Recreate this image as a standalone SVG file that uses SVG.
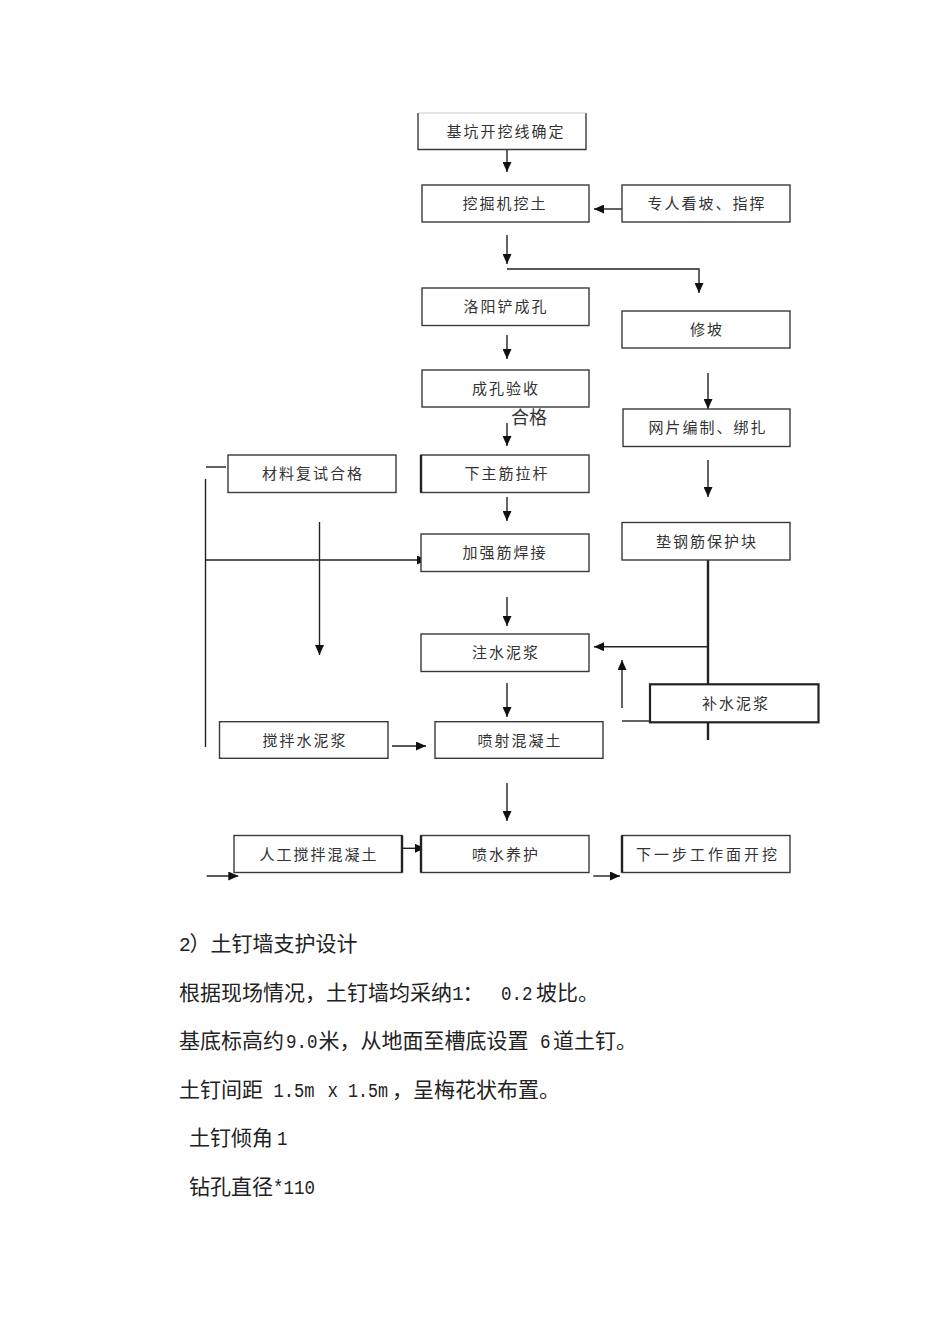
<svg xmlns="http://www.w3.org/2000/svg" width="950" height="1344" viewBox="0 0 950 1344">
<style>
.bx{fill:#fff;stroke:#3a3a3a;stroke-width:1.4}
.tk{stroke:#222;stroke-width:2.4;fill:none}
.t{font-family:"Noto Sans CJK SC","Noto Sans",sans-serif;font-size:15px;letter-spacing:2px;fill:#333;text-anchor:middle}
.ln{stroke:#222;stroke-width:1.4;fill:none}
.ar{stroke:#222;stroke-width:1.4;fill:none;marker-end:url(#ah)}
.b{font-family:"Noto Sans CJK SC","Noto Sans",sans-serif;font-size:21px;fill:#222}
.m{font-family:"Liberation Mono",monospace;font-size:19.5px;fill:#222}
</style>
<defs>
<marker id="ah" markerUnits="userSpaceOnUse" markerWidth="10" markerHeight="9" refX="10" refY="4.5" orient="auto">
<path d="M0,0 L10,4.5 L0,9 z" fill="#111"/>
</marker>
</defs>
<rect width="950" height="1344" fill="#fff"/>

<g id="connectors">
<line class="ar" x1="507" y1="149" x2="507" y2="172"/>
<line class="ar" x1="622" y1="209" x2="594" y2="209"/>
<line class="ar" x1="507" y1="235" x2="507" y2="264"/>
<polyline class="ar" points="507,269 699,269 699,293"/>
<line class="ar" x1="507" y1="335" x2="507" y2="359"/>
<line class="ar" x1="708" y1="373" x2="708" y2="409"/>
<line class="ar" x1="507" y1="423" x2="507" y2="446"/>
<line class="ar" x1="708" y1="460" x2="708" y2="497"/>
<line class="ar" x1="507" y1="497" x2="507" y2="521"/>
<line class="ln" x1="206" y1="467" x2="226" y2="467"/>
<line class="ln" x1="205.5" y1="479" x2="205.5" y2="747"/>
<line class="ar" x1="205.5" y1="560" x2="427" y2="560"/>
<line class="ar" x1="319.5" y1="522" x2="319.5" y2="655"/>
<line class="tk" x1="708" y1="560" x2="708" y2="740"/>
<line class="ar" x1="708" y1="646.7" x2="594" y2="646.7"/>
<line class="ar" x1="507" y1="597" x2="507" y2="626"/>
<line class="ar" x1="622" y1="708" x2="622" y2="660"/>
<line class="ln" x1="622" y1="721" x2="650" y2="721"/>
<line class="ar" x1="507" y1="683" x2="507" y2="717"/>
<line class="ar" x1="392" y1="746" x2="426" y2="746"/>
<line class="ar" x1="507" y1="783" x2="507" y2="821"/>
<line class="ar" x1="402" y1="848.3" x2="425" y2="848.3"/>
<line class="ar" x1="206.7" y1="876" x2="238.3" y2="876"/>
<line class="ar" x1="593.3" y1="876" x2="620" y2="876"/>
</g>

<g id="n1">
<rect x="418" y="113" width="168" height="36.5" fill="#fff"/>
<path d="M418,113 V149.5 H586 V113" fill="none" stroke="#3a3a3a" stroke-width="1.4"/>
<line x1="418" y1="113" x2="586" y2="113" stroke="#c8c8c8" stroke-width="1"/>
<text class="t" x="506" y="137">基坑开挖线确定</text>
</g>
<g id="n2">
<rect class="bx" x="422" y="185" width="167" height="37"/>
<text class="t" x="505" y="209">挖掘机挖土</text>
</g>
<g id="n3">
<rect class="bx" x="622" y="185" width="168" height="37"/>
<text class="t" x="707" y="209">专人看坡、指挥</text>
</g>
<g id="n4">
<rect class="bx" x="422" y="288" width="167" height="37.5"/>
<text class="t" x="506" y="312">洛阳铲成孔</text>
</g>
<g id="n5">
<rect class="bx" x="622" y="311" width="168" height="37"/>
<text class="t" x="707" y="335">修坡</text>
</g>
<g id="n6">
<rect class="bx" x="422" y="370" width="167" height="37"/>
<text class="t" x="506" y="394">成孔验收</text>
<text x="511" y="424" font-family="'Noto Sans CJK SC',sans-serif" font-size="18" fill="#333">合格</text>
</g>
<g id="n7">
<rect class="bx" x="623" y="409" width="167" height="37.5"/>
<text class="t" x="708" y="433">网片编制、绑扎</text>
</g>
<g id="n8">
<rect class="bx" x="228" y="455" width="168" height="37.5"/>
<text class="t" x="313" y="479">材料复试合格</text>
</g>
<g id="n9">
<rect class="bx" x="421" y="455" width="168" height="37.5"/>
<line class="tk" x1="421" y1="455" x2="421" y2="492.5"/>
<text class="t" x="507" y="479">下主筋拉杆</text>
</g>
<g id="n10">
<rect class="bx" x="421" y="534" width="168" height="37.5"/>
<text class="t" x="505" y="558">加强筋焊接</text>
</g>
<g id="n11">
<rect class="bx" x="622" y="522.5" width="168" height="37.5"/>
<text class="t" x="707" y="547">垫钢筋保护块</text>
</g>
<g id="n12">
<rect class="bx" x="421" y="634" width="168" height="37.5"/>
<text class="t" x="506" y="658">注水泥浆</text>
</g>
<g id="n13">
<rect x="650" y="684.3" width="168.5" height="38" fill="#fff" stroke="#222" stroke-width="2.2"/>
<text class="t" x="736" y="709">补水泥浆</text>
</g>
<g id="n14">
<rect class="bx" x="219.5" y="721.7" width="168.5" height="36.6"/>
<text class="t" x="305" y="745.5">搅拌水泥浆</text>
</g>
<g id="n15">
<rect class="bx" x="435" y="721.7" width="168" height="36.6"/>
<text class="t" x="520" y="745.5">喷射混凝土</text>
</g>
<g id="n16">
<rect class="bx" x="234" y="835.5" width="168" height="37"/>
<line class="tk" x1="402" y1="835.5" x2="402" y2="872.5"/>
<text class="t" x="319" y="859.5">人工搅拌混凝土</text>
</g>
<g id="n17">
<rect class="bx" x="421" y="835.5" width="168" height="37"/>
<line class="tk" x1="421" y1="835.5" x2="421" y2="872.5"/>
<text class="t" x="506" y="859.5">喷水养护</text>
</g>
<g id="n18">
<rect class="bx" x="622" y="835.5" width="168" height="37"/>
<line class="tk" x1="622" y1="835.5" x2="622" y2="872.5"/>
<text class="t" x="708" y="859.5" style="letter-spacing:3px">下一步工作面开挖</text>
</g>

<g id="body">
<text class="m" x="179" y="951" textLength="10.5">2</text>
<text class="b" x="189.5" y="951">）土钉墙支护设计</text>

<text class="b" x="179" y="1000">根据现场情况，土钉墙均采纳</text>
<text class="m" x="452" y="1000" textLength="10.5">1</text>
<text class="b" x="462.5" y="1000">：</text>
<text class="m" x="501" y="1000" textLength="31.5" lengthAdjust="spacingAndGlyphs">0.2</text>
<text class="b" x="536" y="1000">坡比。</text>

<text class="b" x="179" y="1048">基底标高约</text>
<text class="m" x="286" y="1048" textLength="31.5" lengthAdjust="spacingAndGlyphs">9.0</text>
<text class="b" x="318.5" y="1048">米，从地面至槽底设置</text>
<text class="m" x="540" y="1048" textLength="10.5" lengthAdjust="spacingAndGlyphs">6</text>
<text class="b" x="553" y="1048">道土钉。</text>

<text class="b" x="179" y="1097">土钉间距</text>
<text class="m" x="273.5" y="1097" textLength="41" lengthAdjust="spacingAndGlyphs">1.5m</text>
<text class="m" x="327.5" y="1097" textLength="10.5" lengthAdjust="spacingAndGlyphs">x</text>
<text class="m" x="348" y="1097" textLength="40" lengthAdjust="spacingAndGlyphs">1.5m</text>
<text class="b" x="392" y="1097">，呈梅花状布置。</text>

<text class="b" x="189" y="1145">土钉倾角</text>
<text class="m" x="277" y="1145" textLength="10.5" lengthAdjust="spacingAndGlyphs">1</text>

<text class="b" x="189" y="1194">钻孔直径</text>
<text class="m" x="273" y="1194" textLength="42" lengthAdjust="spacingAndGlyphs">*110</text>
</g>
</svg>
